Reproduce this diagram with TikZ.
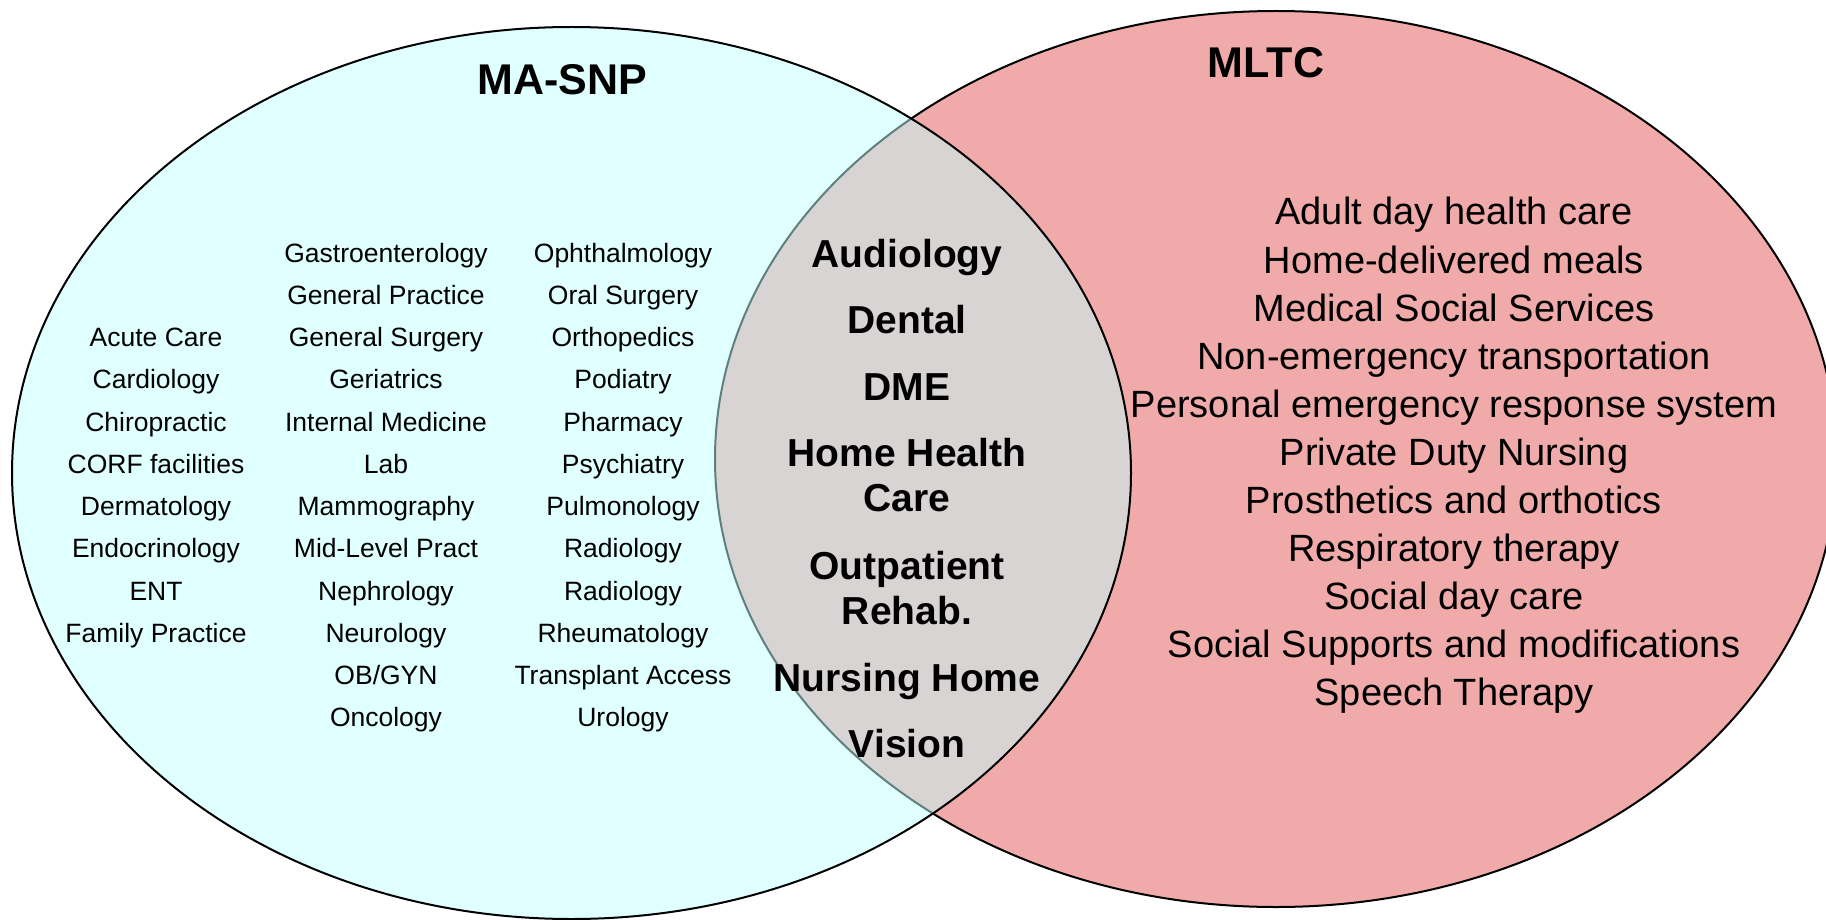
\documentclass[tikz,border=0pt]{standalone}
\usepackage{fontspec}
\setmainfont{Liberation Sans}
\definecolor{snpcyan}{RGB}{193,255,255}
\definecolor{mltcpink}{RGB}{241,170,170}
\tikzset{
  smalltxt/.style={font=\fontsize{26.5}{30}\selectfont, anchor=base, inner sep=0pt},
  sharedtxt/.style={font=\fontsize{39}{43}\selectfont\bfseries, anchor=base, inner sep=0pt},
  servicetxt/.style={font=\fontsize{38}{42}\selectfont, anchor=base, inner sep=0pt},
  titletxt/.style={font=\fontsize{43}{48}\selectfont\bfseries, anchor=base, inner sep=0pt},
  outline/.style={draw=black, line width=2pt}
}
\begin{document}
\begin{tikzpicture}[x=1pt,y=-1pt]
\useasboundingbox (0,0) rectangle (1826,920);
\clip (0,0) rectangle (1826,920);

% MLTC set (underneath)
\fill[mltcpink] (1276,459) ellipse [x radius=561, y radius=448];
\draw[outline] (1276,459) ellipse [x radius=561, y radius=448];

% MA-SNP set: translucent fill on top, so the overlap blends the two colours
\fill[snpcyan, fill opacity=0.5] (571.5,473) ellipse [x radius=559.5, y radius=446];
\draw[outline] (571.5,473) ellipse [x radius=559.5, y radius=446];

% set titles
\node[titletxt] (snp) at (562,94.5) {MA-SNP};
\node[titletxt] (mltc) at (1266,77.5) {MLTC};

% MA-SNP only: three columns
\foreach \t [count=\i] in {Acute Care, Cardiology, Chiropractic, CORF facilities,
    Dermatology, Endocrinology, ENT, Family Practice}
  \node[smalltxt] (a\i) at (156,{262+42.25*(\i+1)}) {\t};
\foreach \t [count=\i] in {Gastroenterology, General Practice, General Surgery,
    Geriatrics, Internal Medicine, Lab, Mammography, Mid-Level Pract, Nephrology,
    Neurology, OB/GYN, Oncology}
  \node[smalltxt] (b\i) at (386,{262+42.25*(\i-1)}) {\t};
\foreach \t [count=\i] in {Ophthalmology, Oral Surgery, Orthopedics, Podiatry,
    Pharmacy, Psychiatry, Pulmonology, Radiology, Radiology, Rheumatology,
    Transplant Access, Urology}
  \node[smalltxt] (c\i) at (623,{262+42.25*(\i-1)}) {\t};

% services in both sets
\node[sharedtxt] (s1) at (907,267.5) {Audiology};
\node[sharedtxt] (s2) at (907,333.5) {Dental};
\node[sharedtxt] (s3) at (907,400.5) {DME};
\node[sharedtxt] (s4) at (907,466.5) {Home Health};
\node[sharedtxt] (s5) at (907,511.5) {Care};
\node[sharedtxt] (s6) at (907,579.5) {Outpatient};
\node[sharedtxt] (s7) at (907,624.5) {Rehab.};
\node[sharedtxt] (s8) at (907,691.5) {Nursing Home};
\node[sharedtxt] (s9) at (907,757.5) {Vision};

% MLTC only
\foreach \t [count=\i] in {Adult day health care, Home-delivered meals,
    Medical Social Services, Non-emergency transportation,
    Personal emergency response system, Private Duty Nursing,
    Prosthetics and orthotics, Respiratory therapy, Social day care,
    Social Supports and modifications, Speech Therapy}
  \node[servicetxt] (m\i) at (1454,{225+48*(\i-1)}) {\t};
\end{tikzpicture}
\end{document}
